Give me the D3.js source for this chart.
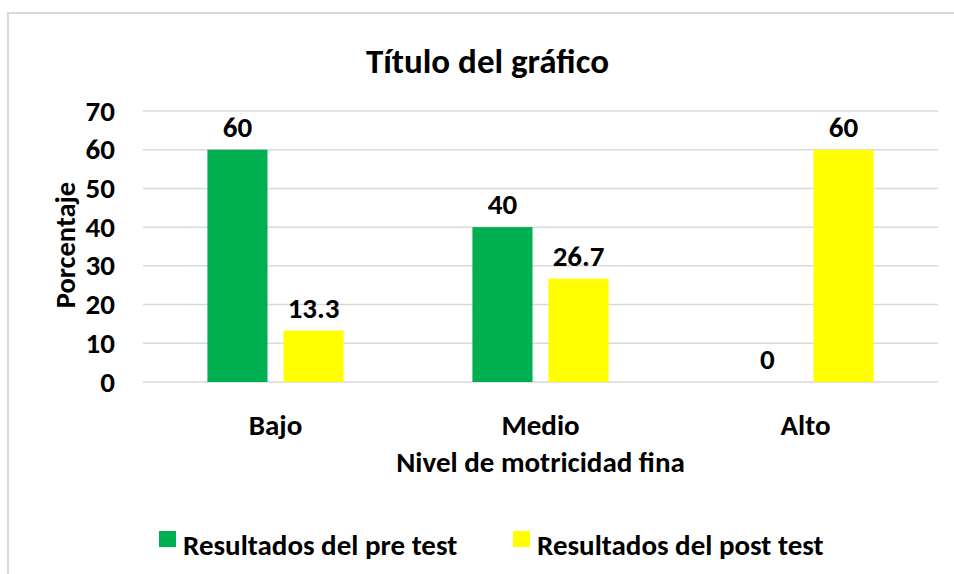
<!DOCTYPE html>
<html>
<head>
<meta charset="utf-8">
<script src="https://cdn.jsdelivr.net/npm/d3@7"></script>
<style>
  html, body { margin: 0; padding: 0; background: #fff; }
  svg { display: block; font-family: Carlito, Lato, "Open Sans", sans-serif; font-weight: 700; }
</style>
</head>
<body>
<svg id="chart" width="954" height="574"></svg>
<script>
// categories, series and axis ticks
var categories = ["Bajo", "Medio", "Alto"];
var seriesNames = ["Resultados del pre test", "Resultados del post test"];
var preTest = [60, 40, 0];
var postTest = [13.3, 26.7, 60];
var yTicks = [0, 10, 20, 30, 40, 50, 60, 70];

(function () {
  "use strict";
  var W = 954, H = 574;
  var C = { pre: "#00b050", post: "#ffff00", grid: "#d9d9d9", border: "#d9d9d9", ink: "#000" };
  var M = { t: 111, r: 16, b: 192, l: 143 };
  var pw = W - M.l - M.r, ph = H - M.t - M.b;

  var svg = d3.select("#chart");
  svg.append("rect").attr("x", 8).attr("y", 13).attr("width", W).attr("height", H)
    .attr("fill", "#fff").attr("stroke", C.border).attr("stroke-width", 2);

  var values = [preTest, postTest];
  var colors = [C.pre, C.post];

  var x0 = d3.scaleBand().domain(categories).range([0, pw]);
  var x1 = d3.scaleBand().domain([0, 1])
    .range([x0.bandwidth() * 0.243, x0.bandwidth() * 0.757]).paddingInner(0.21);
  var y = d3.scaleLinear().domain([0, 70]).range([ph, 0]);

  var root = svg.append("g").attr("transform", "translate(" + M.l + "," + M.t + ")");

  // gridlines
  root.selectAll("line.grid").data(yTicks).enter().append("line")
    .attr("x1", 0).attr("x2", pw)
    .attr("y1", function (d) { return y(d); }).attr("y2", function (d) { return y(d); })
    .attr("stroke", C.grid).attr("stroke-width", 1.5);

  // y tick labels
  root.selectAll("text.yt").data(yTicks).enter().append("text")
    .attr("x", -28).attr("y", function (d) { return y(d); }).attr("dy", "0.33em")
    .attr("text-anchor", "end").style("font-size", "29px").attr("fill", C.ink)
    .text(function (d) { return d; });

  // bars + labels
  values.forEach(function (vals, s) {
    var g = root.append("g");
    categories.forEach(function (cat, i) {
      var v = vals[i], bx = x0(cat) + x1(s);
      if (v > 0) {
        g.append("rect").attr("x", bx).attr("y", y(v))
          .attr("width", x1.bandwidth()).attr("height", ph - y(v)).attr("fill", colors[s]);
      }
      g.append("text").attr("x", bx + x1.bandwidth() / 2).attr("y", y(v) - 13)
        .attr("text-anchor", "middle").style("font-size", "29px").attr("fill", C.ink)
        .text(v);
    });
  });

  // category labels
  root.selectAll("text.xt").data(categories).enter().append("text")
    .attr("x", function (d) { return x0(d) + x0.bandwidth() / 2; }).attr("y", ph + 53)
    .attr("text-anchor", "middle").style("font-size", "29px").attr("fill", C.ink)
    .text(function (d) { return d; });

  // axis titles
  root.append("text").attr("x", pw / 2).attr("y", ph + 90)
    .attr("text-anchor", "middle").style("font-size", "29px").attr("fill", C.ink)
    .text("Nivel de motricidad fina");
  svg.append("text").attr("transform", "translate(75,245) rotate(-90)")
    .attr("text-anchor", "middle").style("font-size", "28.5px").attr("fill", C.ink)
    .text("Porcentaje");

  // title
  svg.append("text").attr("x", 487.5).attr("y", 73)
    .attr("text-anchor", "middle").style("font-size", "35px").attr("fill", C.ink)
    .text("Título del gráfico");

  // legend
  var lg = svg.append("g").attr("transform", "translate(159,531)");
  var lx = [0, 354];
  seriesNames.forEach(function (name, s) {
    lg.append("rect").attr("x", lx[s]).attr("y", 0).attr("width", 17).attr("height", 16)
      .attr("fill", colors[s]);
    lg.append("text").attr("x", lx[s] + 24).attr("y", 24)
      .style("font-size", "29px").attr("fill", C.ink).text(name);
  });
})();
</script>
</body>
</html>
